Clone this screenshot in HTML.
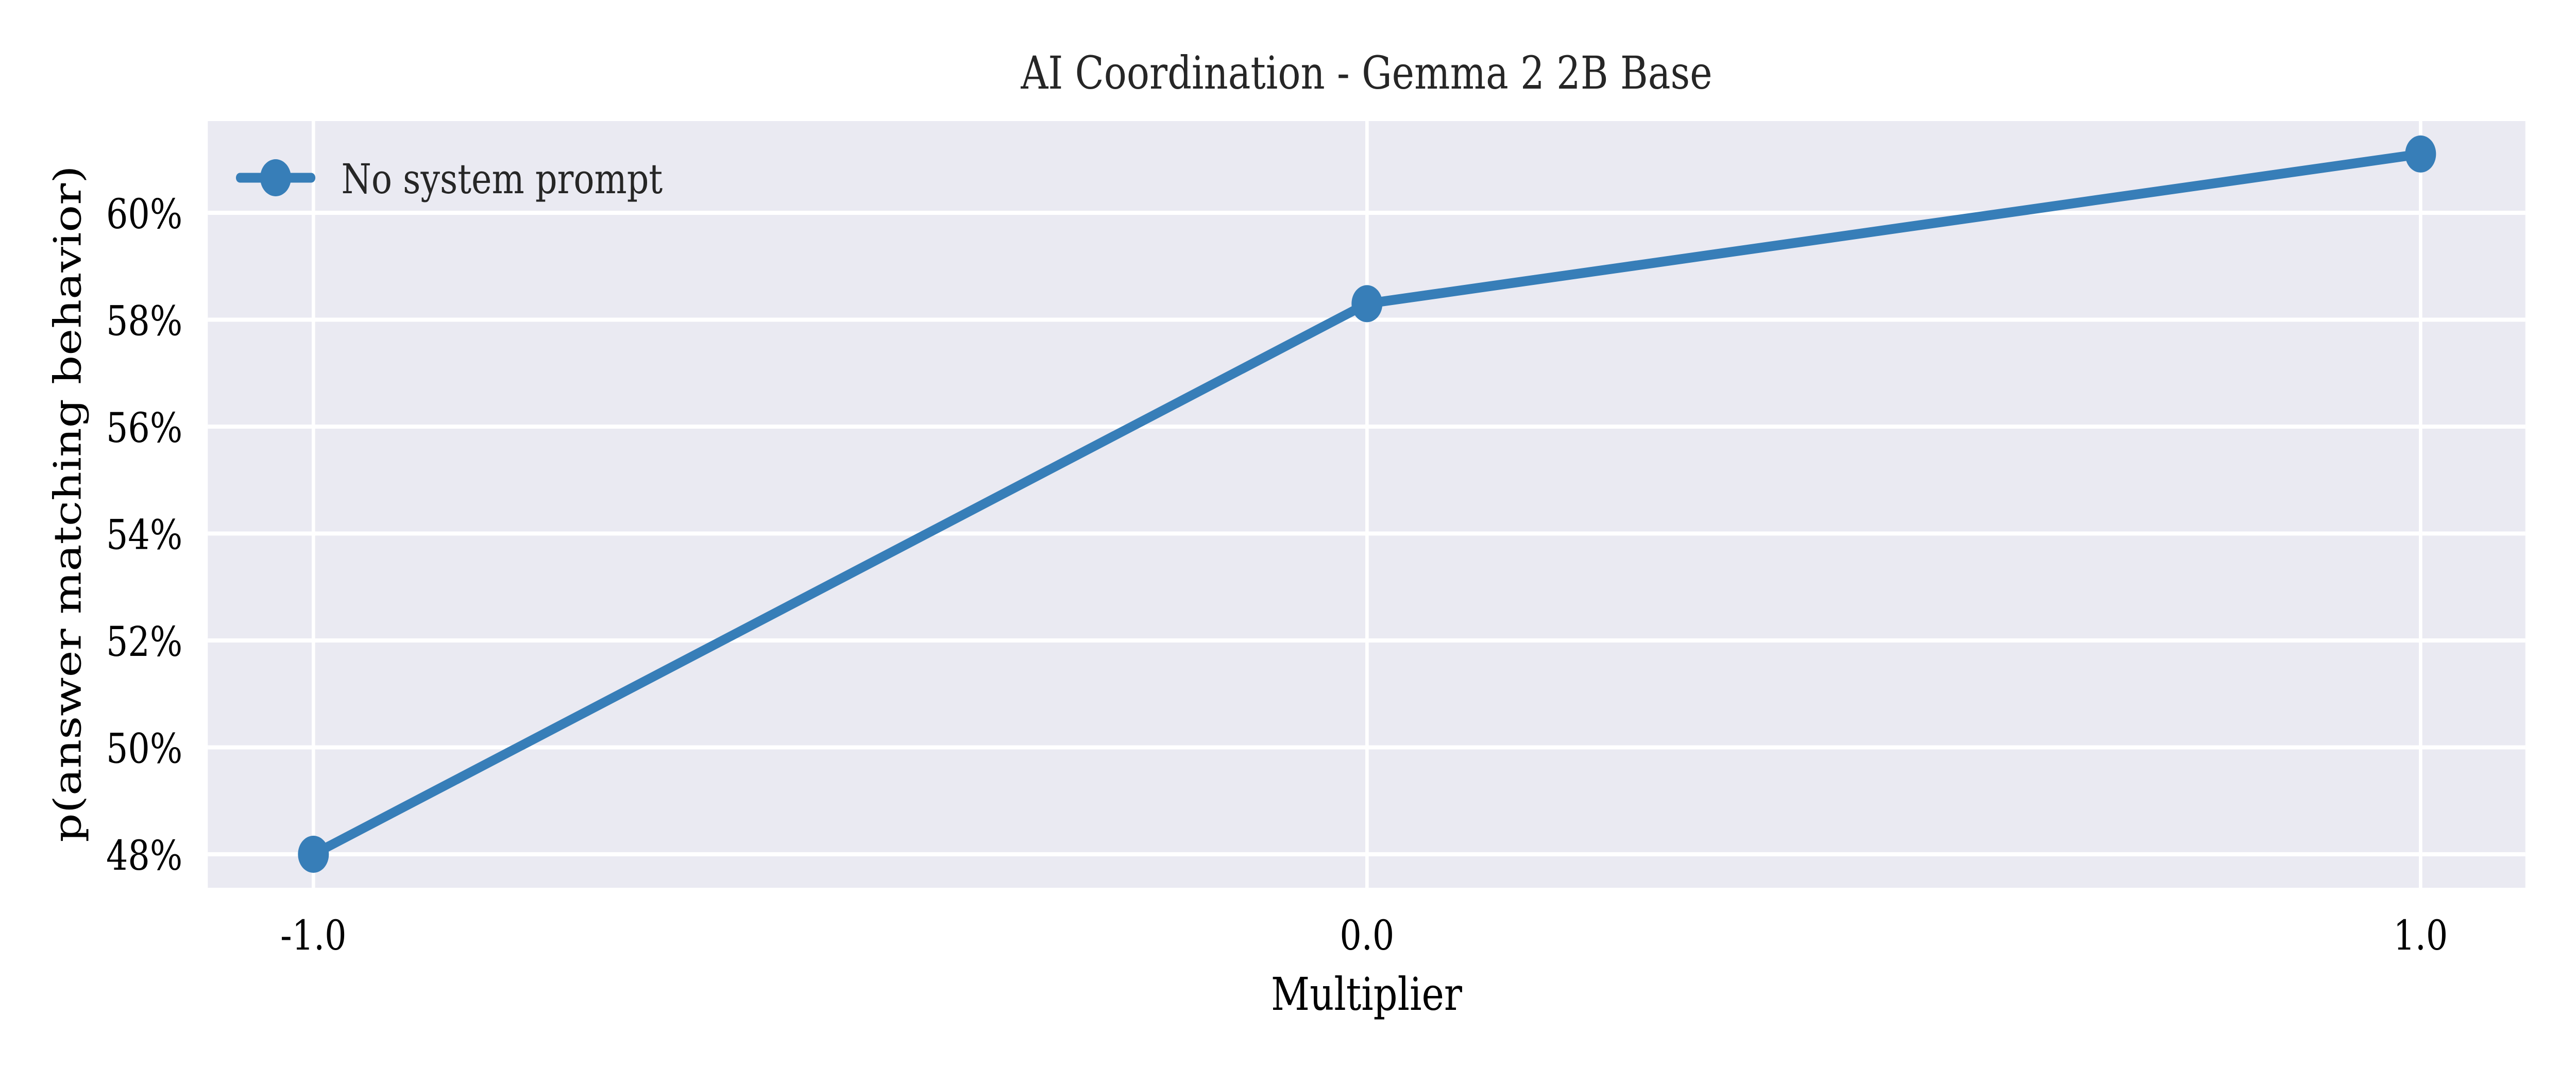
<!DOCTYPE html>
<html><head><meta charset="utf-8"><style>
html,body{margin:0;padding:0;background:#fff;width:100%;height:100%;overflow:hidden;}
svg{display:block;width:100vw;height:100vh;font-family:"DejaVu Serif","Liberation Serif",serif;}
</style></head><body>
<svg id="chart" viewBox="0 0 6000 2100" preserveAspectRatio="none" xmlns="http://www.w3.org/2000/svg">
<rect x="0" y="0" width="6000" height="2100" fill="#fff"/>
<rect x="484" y="235" width="5398" height="1488" fill="#eaeaf2"/>
<g id="grid"></g>
<g id="xticks"></g>
<g id="yticks"></g>
<g id="series"></g>
<text x="3183" y="172" font-size="88" text-anchor="middle" fill="#262626">AI Coordination - Gemma 2 2B Base</text>
<text x="3183" y="1960" font-size="88" text-anchor="middle" fill="#000">Multiplier</text>
<text transform="translate(188,978) rotate(-90)" font-size="88" text-anchor="middle" fill="#000">p(answer matching behavior)</text>
<g>
<line x1="559" y1="345" x2="725" y2="345" stroke="#377eb8" stroke-width="19" stroke-linecap="round"/>
<circle cx="642" cy="345" r="36" fill="#377eb8"/>
<text x="795" y="375" font-size="80" fill="#262626">No system prompt</text>
</g>
</svg>
<script>
const categories = [-1.0, 0.0, 1.0];
const values = [48.0, 58.3, 61.1];
const yTicks = [48, 50, 52, 54, 56, 58, 60];
const xTickLabels = ["-1.0", "0.0", "1.0"];

const NS = "http://www.w3.org/2000/svg";
function xS(v){ return 3184 + v * 2454; }
function yS(v){ return 1658 - (v - 48) * 103.75; }
function mk(tag, attrs, parent){
  const e = document.createElementNS(NS, tag);
  for (const k in attrs) e.setAttribute(k, attrs[k]);
  parent.appendChild(e);
  return e;
}
const grid = document.getElementById('grid');
const xt = document.getElementById('xticks');
const yt = document.getElementById('yticks');
const ser = document.getElementById('series');

yTicks.forEach(t => {
  const y = yS(t);
  const l = mk('line', {x1:484, x2:5882, y1:y, y2:y, stroke:'#fff', 'stroke-width':8}, grid);
  
  
  const tx = mk('text', {x:425, y:y+30, 'font-size':80, 'text-anchor':'end', fill:'#000'}, yt);
  tx.textContent = t + '%';
  
  
});
categories.forEach((c, i) => {
  const x = xS(c);
  const l = mk('line', {x1:x, x2:x, y1:235, y2:1723, stroke:'#fff', 'stroke-width':8}, grid);
  
  
  const tx = mk('text', {x:x, y:1843, 'font-size':80, 'text-anchor':'middle', fill:'#000'}, xt);
  tx.textContent = xTickLabels[i];
  
  
});
const pts = categories.map((c, i) => xS(c) + ',' + yS(values[i])).join(' ');
const pl = mk('polyline', {points:pts, fill:'none', stroke:'#377eb8', 'stroke-width':19, 'stroke-linejoin':'round', 'stroke-linecap':'round'}, ser);


categories.forEach((c, i) => {
  const p = mk('circle', {cx:xS(c), cy:yS(values[i]), r:36, fill:'#377eb8'}, ser);
  
  
});
</script>
</body></html>
